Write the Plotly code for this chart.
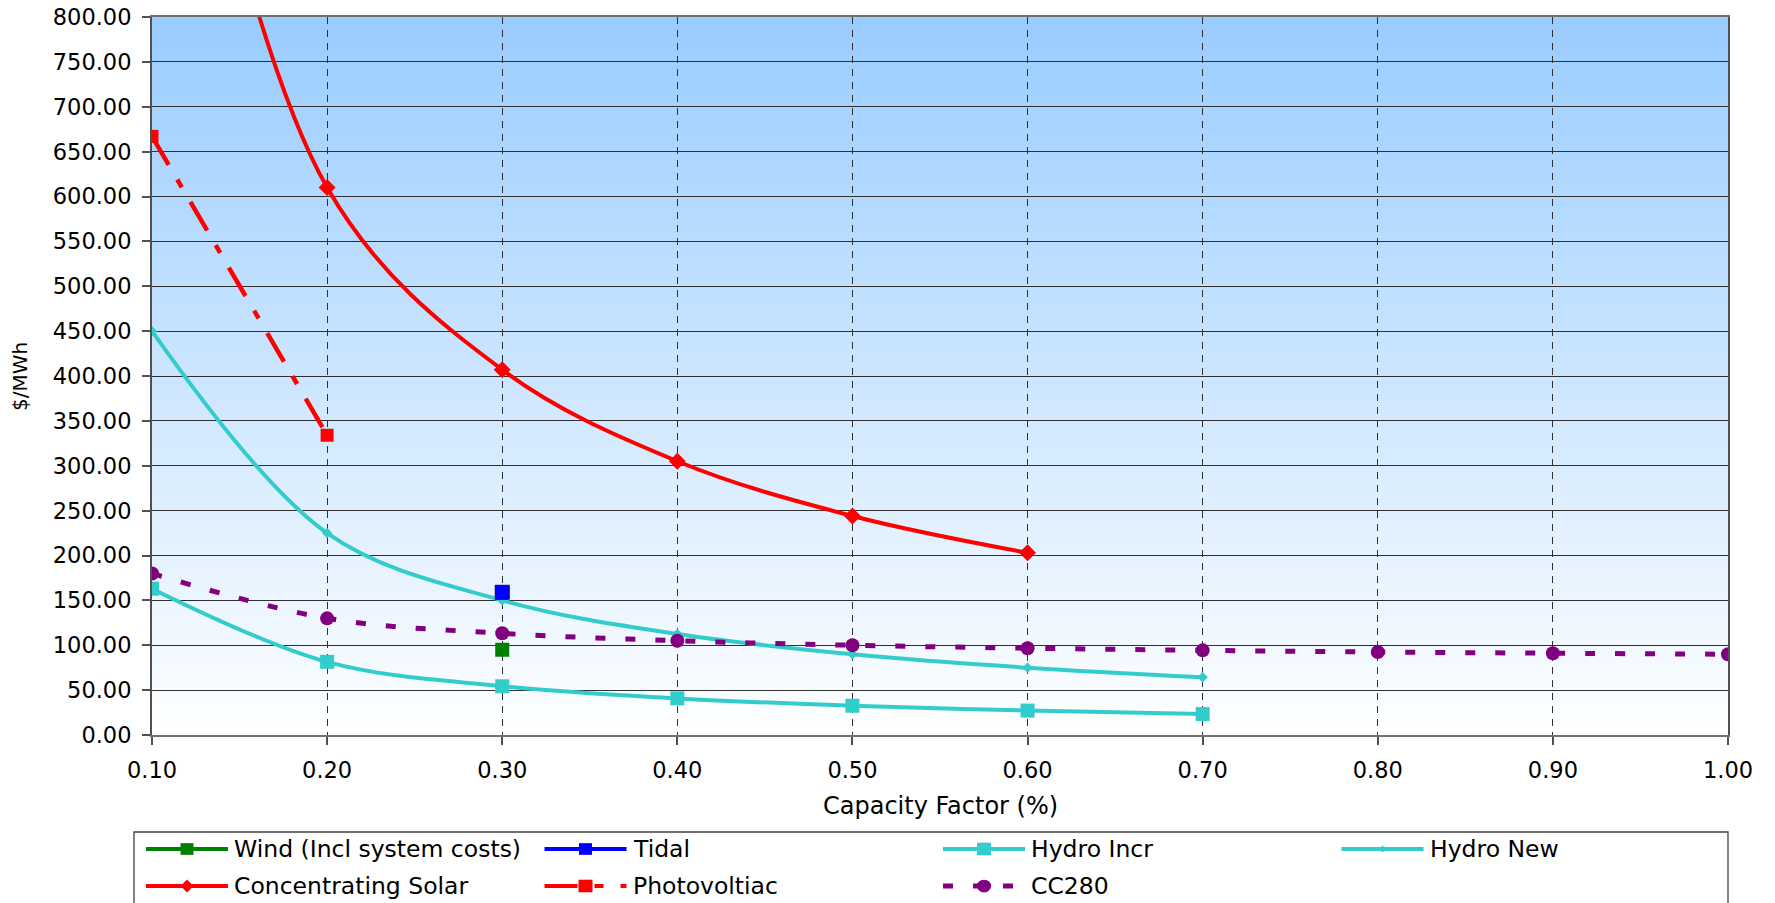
import plotly.graph_objects as go

# ---- data ($/MWh by capacity factor) ----
capacity_factor = [0.1, 0.2, 0.3, 0.4, 0.5, 0.6, 0.7, 0.8, 0.9, 1.0]

wind_cf = [0.3]
wind_cost = [95]

tidal_cf = [0.3]
tidal_cost = [159]

hydro_incr_cf = [0.1, 0.2, 0.3, 0.4, 0.5, 0.6, 0.7]
hydro_incr_cost = [163, 81.5, 54.3, 40.8, 32.6, 27.2, 23.3]

hydro_new_cf = [0.1, 0.2, 0.3, 0.4, 0.5, 0.6, 0.7]
hydro_new_cost = [450, 225, 150, 112.5, 90, 75, 64.3]

csp_cf = [0.1, 0.2, 0.3, 0.4, 0.5, 0.6]
csp_cost = [1300, 610, 407, 305, 244, 203]

pv_cf = [0.1, 0.2]
pv_cost = [667, 334]

cc280_cf = [0.1, 0.2, 0.3, 0.4, 0.5, 0.6, 0.7, 0.8, 0.9, 1.0]
cc280_cost = [180, 130, 113.3, 105, 100, 96.7, 94.3, 92.5, 91.1, 90]

x_ticks = [0.1, 0.2, 0.3, 0.4, 0.5, 0.6, 0.7, 0.8, 0.9, 1.0]
y_ticks = list(range(0, 801, 50))

# ---- page geometry ----
W, H = 1775, 903
L, R, T, B = 152, 47, 17, 168
PW, PH = W - L - R, H - T - B

FONT = "DejaVu Sans"
HYDRO = "#33CCCC"
RED = "#FF0000"
PURPLE = "#800080"
PV_DASH = "33px,17px,9px,17px"
CC_DASH = "10px,20px"


def px_x(p):
    return (p - L) / PW


def px_y(p):
    return (H - B - p) / PH


fig = go.Figure()

fig.add_trace(go.Scatter(
    x=hydro_incr_cf, y=hydro_incr_cost, name="Hydro Incr", mode="lines+markers",
    line=dict(color=HYDRO, width=4, shape="spline", smoothing=1),
    marker=dict(symbol="square", size=14, color=HYDRO)))
fig.add_trace(go.Scatter(
    x=hydro_new_cf, y=hydro_new_cost, name="Hydro New", mode="lines+markers",
    line=dict(color=HYDRO, width=4, shape="spline", smoothing=1),
    marker=dict(symbol="diamond", size=8, color=HYDRO)))
fig.add_trace(go.Scatter(
    x=cc280_cf, y=cc280_cost, name="CC280", mode="lines+markers",
    line=dict(color=PURPLE, width=5, dash=CC_DASH, shape="spline", smoothing=1),
    marker=dict(symbol="circle", size=14, color=PURPLE)))
fig.add_trace(go.Scatter(
    x=csp_cf, y=csp_cost, name="Concentrating Solar", mode="lines+markers",
    line=dict(color=RED, width=4, shape="spline", smoothing=1),
    marker=dict(symbol="diamond", size=13, color=RED)))
fig.add_trace(go.Scatter(
    x=pv_cf, y=pv_cost, name="Photovoltiac", mode="lines+markers",
    line=dict(color=RED, width=4.5, dash=PV_DASH),
    marker=dict(symbol="square", size=13, color=RED)))
fig.add_trace(go.Scatter(
    x=wind_cf, y=wind_cost, name="Wind (Incl system costs)", mode="markers",
    marker=dict(symbol="square", size=14, color="#008000")))
fig.add_trace(go.Scatter(
    x=tidal_cf, y=tidal_cost, name="Tidal", mode="markers",
    marker=dict(symbol="square", size=14, color="#0000FF",
                line=dict(color="#000080", width=1))))

shapes = []

# plot-area background: light blue fading to white
n_strips = 120
top_rgb = (153, 204, 255)
for i in range(n_strips):
    f = (i + 0.5) / n_strips  # 0 at bottom, 1 at top
    r = round(255 + (top_rgb[0] - 255) * f)
    g = round(255 + (top_rgb[1] - 255) * f)
    b = round(255 + (top_rgb[2] - 255) * f)
    shapes.append(dict(type="rect", xref="paper", yref="paper", layer="below",
                       x0=0, x1=1, y0=i / n_strips, y1=(i + 1) / n_strips + 0.001,
                       fillcolor=f"rgb({r},{g},{b})", line=dict(width=0)))

# legend box
shapes.append(dict(type="rect", xref="paper", yref="paper",
                   x0=px_x(134), x1=px_x(1728), y0=px_y(915), y1=px_y(832),
                   fillcolor="white", line=dict(color="#404040", width=1.3),
                   layer="below"))

legend_entries = [
    # name, color, dash, marker, marker size, row, col
    ("Wind (Incl system costs)", "#008000", "solid", "square", 13, 0, 0),
    ("Tidal", "#0000FF", "solid", "square", 13, 0, 1),
    ("Hydro Incr", HYDRO, "solid", "square", 14, 0, 2),
    ("Hydro New", HYDRO, "solid", "diamond", 7, 0, 3),
    ("Concentrating Solar", RED, "solid", "diamond", 13, 1, 0),
    ("Photovoltiac", RED, PV_DASH, "square", 14, 1, 1),
    ("CC280", PURPLE, CC_DASH, "circle", 15, 1, 2),
]
row_y = [849, 886]
col_pitch = 398.5
col_x0 = 146
key_len = 82

annotations = []
for name, color, dash, sym, msz, row, col in legend_entries:
    x0 = col_x0 + col * col_pitch
    yk = px_y(row_y[row])
    lw = 5 if dash == CC_DASH else 4
    shapes.append(dict(type="line", xref="paper", yref="paper",
                       x0=px_x(x0), x1=px_x(x0 + key_len), y0=yk, y1=yk,
                       line=dict(color=color, width=lw, dash=dash)))
    xc = px_x(x0 + key_len / 2)
    h = msz / 2
    common = dict(xref="paper", yref="paper", xsizemode="pixel", ysizemode="pixel",
                  xanchor=xc, yanchor=yk, fillcolor=color, line=dict(width=0))
    if sym == "square":
        shapes.append(dict(type="rect", x0=-h, x1=h, y0=-h * 0.9, y1=h * 0.9, **common))
    elif sym == "circle":
        shapes.append(dict(type="circle", x0=-h * 0.95, x1=h * 0.95, y0=-h * 0.85, y1=h * 0.85, **common))
    else:
        shapes.append(dict(type="path", path=f"M 0 {h} L {h} 0 L 0 {-h} L {-h} 0 Z", **common))
    annotations.append(dict(text=name, xref="paper", yref="paper",
                            x=px_x(x0 + key_len + 4), y=yk, xanchor="left", yanchor="middle",
                            showarrow=False, font=dict(family=FONT, size=23.5, color="black")))

# axis titles
annotations.append(dict(text="Capacity Factor (%)", xref="paper", yref="paper",
                        x=0.5, y=px_y(806), xanchor="center", yanchor="middle",
                        showarrow=False, font=dict(family=FONT, size=24, color="black")))
annotations.append(dict(text="$/MWh", xref="paper", yref="paper", textangle=-90,
                        x=px_x(20), y=px_y(377), xanchor="center", yanchor="middle",
                        showarrow=False, font=dict(family=FONT, size=20, color="black")))

fig.update_layout(
    width=W, height=H,
    margin=dict(l=L, r=R, t=T, b=B, autoexpand=False),
    paper_bgcolor="white",
    plot_bgcolor="rgba(0,0,0,0)",
    showlegend=False,
    font=dict(family=FONT, size=22, color="black"),
    shapes=shapes,
    annotations=annotations,
)

fig.update_xaxes(
    range=[0.1, 1.0], tickvals=x_ticks, tickformat=".2f",
    showgrid=True, gridcolor="#303030", gridwidth=1.2, griddash="7px,6px",
    showline=True, linecolor="#707070", linewidth=2, mirror=True,
    ticks="outside", ticklen=8, tickcolor="#505050", tickwidth=1.5,
    ticklabelstandoff=6, zeroline=False, automargin=False,
    tickfont=dict(family=FONT, size=22.5, color="black"),
)
fig.update_yaxes(
    range=[0, 800], tickvals=y_ticks, tickformat=".2f",
    showgrid=True, gridcolor="#303030", gridwidth=1.3,
    showline=True, linecolor="#505050", linewidth=2, mirror=True,
    ticks="outside", ticklen=8, tickcolor="#505050", tickwidth=1.5,
    ticklabelstandoff=6, zeroline=False, automargin=False,
    tickfont=dict(family=FONT, size=22.5, color="black"),
)

fig.write_html("out.html")
